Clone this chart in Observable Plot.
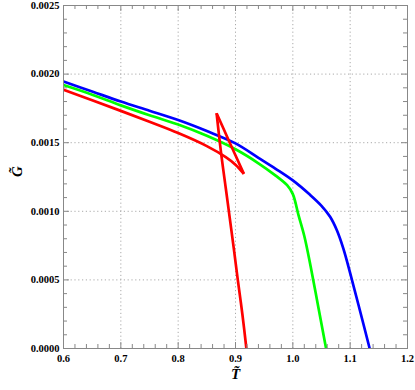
<!DOCTYPE html>
<html>
<head>
<meta charset="utf-8">
<script src="https://cdn.jsdelivr.net/npm/d3@7"></script>
<script src="https://cdn.jsdelivr.net/npm/@observablehq/plot@0.6"></script>
<style>
  html, body { margin: 0; padding: 0; background: #fff; }
</style>
</head>
<body>
<div id="chart"></div>
<script>
// ---- data ----
const blueT = [0.6, 0.65, 0.7, 0.75, 0.8, 0.85, 0.9, 0.94, 0.97, 1.0, 1.03, 1.05, 1.065, 1.077, 1.088, 1.1, 1.115, 1.134];
const blueG = [0.001946, 0.001873, 0.0018, 0.001733, 0.001665, 0.001585, 0.001495, 0.00139, 0.00131, 0.001225, 0.00112, 0.00104, 0.00096, 0.00086, 0.00073, 0.00055, 0.00031, 0.0];

const greenT = [0.6, 0.65, 0.7, 0.75, 0.8, 0.85, 0.9, 0.94, 0.97, 0.99, 1.0, 1.01, 1.02, 1.031, 1.045, 1.058];
const greenG = [0.00192, 0.00185, 0.001772, 0.0017, 0.001632, 0.00155, 0.001452, 0.00135, 0.00126, 0.00119, 0.001125, 0.00097, 0.00082, 0.0006, 0.00029, 0.0];

// red: three branches of the swallowtail
const red1T = [0.6, 0.65, 0.7, 0.75, 0.8, 0.85, 0.883, 0.9, 0.9146];
const red1G = [0.001886, 0.00181, 0.001732, 0.001652, 0.00157, 0.001475, 0.001395, 0.00134, 0.001273];
const red2T = [0.9146, 0.89, 0.867];
const red2G = [0.001273, 0.0015, 0.001715];
const red3T = [0.867, 0.875, 0.883, 0.89, 0.897, 0.904, 0.912, 0.919];
const red3G = [0.001715, 0.00142, 0.00117, 0.00095, 0.00073, 0.0005, 0.00025, 0.0];

const xMajor = [0.6, 0.7, 0.8, 0.9, 1.0, 1.1, 1.2];
const xGrid = [0.7, 0.8, 0.9, 1.0, 1.1];
const xMinor = [0.62, 0.64, 0.66, 0.68, 0.72, 0.74, 0.76, 0.78, 0.82, 0.84, 0.86, 0.88, 0.92, 0.94, 0.96, 0.98, 1.02, 1.04, 1.06, 1.08, 1.12, 1.14, 1.16, 1.18];
const yMajor = [0.0, 0.0005, 0.001, 0.0015, 0.002, 0.0025];
const yGrid = [0.0005, 0.001, 0.0015, 0.002];
const yMinor = [0.0001, 0.0002, 0.0003, 0.0004, 0.0006, 0.0007, 0.0008, 0.0009, 0.0011, 0.0012, 0.0013, 0.0014, 0.0016, 0.0017, 0.0018, 0.0019, 0.0021, 0.0022, 0.0023, 0.0024];

const xLabel = "T\u0303";
const yLabel = "G\u0303";

// ---- build series table ----
const rows = [];
const add = (id, color, T, G) => T.forEach((t, i) => rows.push({id, color, T: t, G: G[i]}));
add("blue", "#0000ff", blueT, blueG);
add("green", "#00ff00", greenT, greenG);
add("red1", "#ff0000", red1T, red1G);
add("red2", "#ff0000", red2T, red2G);
add("red3", "#ff0000", red3T, red3G);

// ---- layout ----
const W = 415, H = 390;
const mL = 63, mR = 8, mT = 5, mB = 42;
const plotW = W - mL - mR, plotH = H - mT - mB;
const frameColor = "#888";
const majorLen = 6, minorLen = 4;

const chart = Plot.plot({
  width: W,
  height: H,
  marginLeft: mL,
  marginRight: mR,
  marginTop: mT,
  marginBottom: mB,
  style: {fontFamily: "'Liberation Serif', 'Times New Roman', serif", fontSize: "10.5px", fontWeight: "bold", background: "#fff", color: "#000"},
  x: {domain: [0.6, 1.2]},
  y: {domain: [0, 0.0025]},
  marks: [
    Plot.gridX(xGrid, {stroke: "#aaa", strokeOpacity: 1, strokeDasharray: "1.2,2.6"}),
    Plot.gridY(yGrid, {stroke: "#aaa", strokeOpacity: 1, strokeDasharray: "1.2,2.6"}),
    Plot.line(rows, {x: "T", y: "G", z: "id", stroke: "color", curve: "catmull-rom", strokeWidth: 2.7, strokeLinejoin: "round", strokeLinecap: "butt"}),
    Plot.frame({stroke: frameColor}),
    // inward ticks, bottom & top
    Plot.tickX(xMajor, {x: d => d, insetTop: plotH - majorLen, stroke: frameColor}),
    Plot.tickX(xMinor, {x: d => d, insetTop: plotH - minorLen, stroke: frameColor}),
    Plot.tickX(xMajor, {x: d => d, insetBottom: plotH - majorLen, stroke: frameColor}),
    Plot.tickX(xMinor, {x: d => d, insetBottom: plotH - minorLen, stroke: frameColor}),
    // inward ticks, left & right
    Plot.tickY(yMajor, {y: d => d, insetRight: plotW - majorLen, stroke: frameColor}),
    Plot.tickY(yMinor, {y: d => d, insetRight: plotW - minorLen, stroke: frameColor}),
    Plot.tickY(yMajor, {y: d => d, insetLeft: plotW - majorLen, stroke: frameColor}),
    Plot.tickY(yMinor, {y: d => d, insetLeft: plotW - minorLen, stroke: frameColor}),
    Plot.axisX(xMajor, {tickSize: 0, tickPadding: 6, tickFormat: d => d.toFixed(1), label: null, fill: "#000"}),
    Plot.axisY(yMajor, {tickSize: 0, tickPadding: 4, tickFormat: d => d.toFixed(4), label: null, fill: "#000"}),
    Plot.text([xLabel], {frameAnchor: "bottom", dy: 30, text: d => d, fontSize: 15, fontStyle: "italic", fontWeight: "bold", fill: "#000"}),
    Plot.text([yLabel], {frameAnchor: "left", dx: -46, rotate: -90, text: d => d, fontSize: 15, fontStyle: "italic", fontWeight: "bold", fill: "#000"})
  ]
});
document.getElementById("chart").appendChild(chart);
</script>
</body>
</html>
